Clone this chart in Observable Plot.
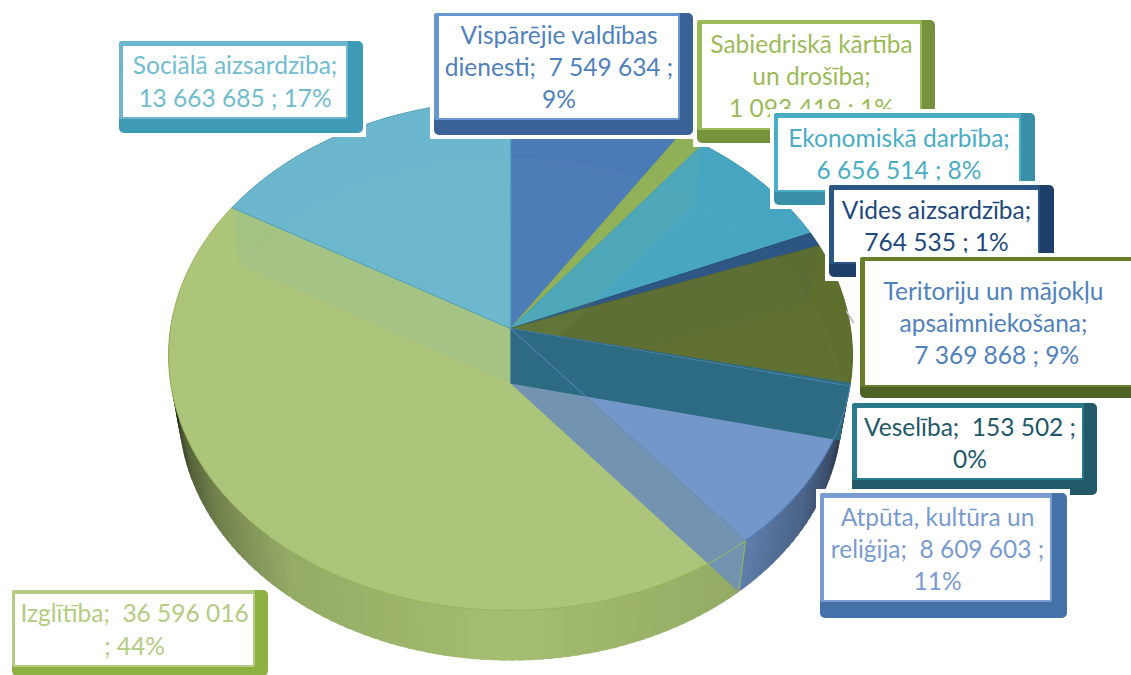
<!DOCTYPE html>
<html><head><meta charset="utf-8">
<style>html,body{margin:0;padding:0;background:#fff;overflow:hidden}svg{display:block}</style>
<script src="https://cdn.jsdelivr.net/npm/d3@7"></script>
<script src="https://cdn.jsdelivr.net/npm/@observablehq/plot@0.6"></script>
</head><body><div id="chart"></div>
<script>
// ---- data (clockwise from 12 o'clock)
const categories = ["Vispārējie valdības dienesti","Sabiedriskā kārtība un drošība","Ekonomiskā darbība","Vides aizsardzība","Teritoriju un mājokļu apsaimniekošana","Veselība","Atpūta, kultūra un reliģija","Izglītība","Sociālā aizsardzība"];
const values = [7549634,1093419,6656514,764535,7369868,153502,8609603,36596016,13663685];
const labelTexts = [
 "Vispārējie valdības\ndienesti;  7 549 634 ;\n9%",
 "Sabiedriskā kārtība\nun drošība;\n1 093 419 ; 1%",
 "Ekonomiskā darbība;\n6 656 514 ; 8%",
 "Vides aizsardzība;\n764 535 ; 1%",
 "Teritoriju un mājokļu\napsaimniekošana;\n 7 369 868 ; 9%",
 "Veselība;  153 502 ;\n0%",
 "Atpūta, kultūra un\nreliģija;  8 609 603 ;\n11%",
 "Izglītība;  36 596 016\n; 44%",
 "Sociālā aizsardzība;\n13 663 685 ; 17%"];

// ---- styles
const topColors = ["#4b7bb6","#8fb056","#46a5c1","#2b5582","#5f6f2e","#2f7088","#7096c8","#acc578","#6cb7cd"];
const edgeColors = ["#4577b3","#8aaa4f","#3f9cb8","#244c78","#58682a","#2a6679","#5f88bf","#93b355","#4f9fb8"];
const sideColors = ["#3f6ca5","#83a24a","#3c95ae","#244c78","#4f6228","#215968","#6a8fc4","#a4bd6e","#5aa8bf"];
const textColors = ["#4f81bd","#9bbb59","#4bacc6","#1f497d","#4f81bd","#215968","#7a9bcf","#b3cc82","#71bccf"];
const frameDark = ["#3b6297","#76923c","#3a8fa8","#1f3f6b","#4f6228","#215968","#4472a8","#8db040","#3f9ab5"];
const frameLight = ["#6a96cf","#9bbb59","#4bacc6","#2b5582","#6a7f2a","#2b7a8c","#7a9bd0","#b3cc82","#6cb7cd"];

// ---- layout: [x1,y1,x2,y2] of each label, drawn in this order
const drawOrder = [8,0,1,2,3,4,5,6,7];
const frames = [[434,13,693,135],[697,20,935,143],[774,113,1035,205],[829,185,1054,277],[860,257,1140,398],[852,403,1097,495],[820,493,1067,618],[12,590,268,676],[119,41,363,133]];
const inners = [[439,16,678,118],[702,24,920,128],[778,118,1019,190],[834,190,1038,262],[865,261,1140,385],[857,408,1082,478],[824,498,1050,600],[15,594,253,665],[123,46,346,117]];

// ---- pie geometry: perspective of a disc, top and bottom rim
const k = 0.1059;
const rimTop = {cx:510, cy:328, a:340, b:252.1};
const rimLow = {cx:510, cy:383, a:330, b:247.7};
const rad = d => d*Math.PI/180;
const P = (r,deg) => { const u=Math.sin(rad(deg)), v=-Math.cos(rad(deg)), w=1-k*v; return [r.cx+r.a*u/w, r.cy+r.b*v/w]; };
const total = d3.sum(values);
let acc = 0;
const bounds = [0, ...values.map(v => (acc += v)/total*360)];
const arc = (r,a0,a1) => { const n=Math.max(2,Math.ceil(Math.abs(a1-a0))), o=[]; for(let i=0;i<=n;i++) o.push(P(r,a0+(a1-a0)*i/n)); return o; };
const apexT=[rimTop.cx,rimTop.cy], apexL=[rimLow.cx,rimLow.cy];
const pts = a => a.map(p=>({x:p[0],y:p[1]}));

const shade = d3.scaleLinear().domain([0,.6,.82,.92,.97,1]).range([1,.9,.68,.5,.25,.12]).clamp(true);

// side strips, front half; each quad overlaps the next so no seams show
const strips=[];
values.forEach((_,i)=>{
  const a0=Math.max(bounds[i],90), a1=Math.min(bounds[i+1],270);
  if(a1<=a0) return;
  const n=Math.ceil((a1-a0)/1.5);
  for(let j=0;j<n;j++){
    const s=a0+(a1-a0)*j/n, e=a0+(a1-a0)*(j+1)/n;
    const q=[P(rimTop,s),P(rimTop,e+1),P(rimLow,e+1),P(rimLow,s)];
    const f=shade(Math.abs(Math.sin(rad((s+e)/2))));
    const c=d3.rgb(sideColors[i]); const col=d3.rgb(c.r*f,c.g*f,c.b*f).formatHex();
    q.forEach(p=>strips.push({x:p[0],y:p[1],id:`s${i}-${j}`,color:col}));
  }
});
// top faces
const faces=[];
values.forEach((_,i)=>{
  [apexT,...arc(rimTop,bounds[i],bounds[i+1])].forEach(p=>faces.push({x:p[0],y:p[1],id:"f"+i,color:topColors[i],edge:edgeColors[i]}));
});
// bottom disc seen through the top
const disc = pts(arc(rimLow,0,360));
// inner walls seen through the top: [boundary, fill, opacity]
const wallDefs=[[2,"#9bbb59",.08],[4,"#2b5582",.06],[8,"#6cb7cd",.13],[7,"#6f93b3",.97],[6,"#2c6b82",1]];
const wall=b=>pts([apexT,P(rimTop,bounds[b]),P(rimLow,bounds[b]),apexL]);
const rect=(d,fill,r)=>Plot.rect([d],{x1:d=>d[0],y1:d=>d[1],x2:d=>d[2],y2:d=>d[3],fill,r});

const marks=[
  Plot.line(strips,{x:"x",y:"y",z:"id",fill:"color",stroke:"none",curve:"linear-closed"}),
  Plot.line(faces,{x:"x",y:"y",z:"id",fill:"color",stroke:"edge",strokeWidth:1,curve:"linear-closed"}),
  Plot.line(disc,{x:"x",y:"y",fill:"#ffffff",fillOpacity:.015,stroke:"#ffffff",strokeOpacity:.03,curve:"linear-closed"}),
  ...wallDefs.map(([b,c,o])=>Plot.line(wall(b),{x:"x",y:"y",fill:c,fillOpacity:o,stroke:"none",curve:"linear-closed"})),
  // green rim and wall edge over the translucent wall
  Plot.line(pts(arc(rimTop,bounds[7],bounds[7]+14)),{x:"x",y:"y",stroke:"#9bbb59",strokeWidth:1}),
  Plot.line(pts([P(rimTop,bounds[7]),P(rimLow,bounds[7])]),{x:"x",y:"y",stroke:"#9bbb59",strokeWidth:1}),
  Plot.line(pts([apexT,P(rimTop,bounds[7])]),{x:"x",y:"y",stroke:"#5f88bf",strokeWidth:1}),
  Plot.line(pts(arc(rimTop,bounds[5],bounds[7])),{x:"x",y:"y",stroke:"#4f7fb8",strokeWidth:1}),
  // stub of a leader line
  Plot.line([{x:846,y:311},{x:853,y:322}],{x:"x",y:"y",stroke:"#b9b9b9",strokeWidth:1.5}),
];
drawOrder.forEach(i=>{
  const f=frames[i], n=inners[i];
  marks.push(
    rect([f[0]-4,f[1]-4,f[2]+3,f[3]+4],"#ffffff",0),
    rect(f,frameDark[i],5),
    rect([f[0],f[1],n[2]+2,n[3]+2],frameLight[i],2),
    rect(n,"#ffffff",0),
    Plot.text([labelTexts[i]],{x:(n[0]+Math.min(n[2],1121))/2,y:(n[1]+n[3])/2-2,text:d=>d,fill:textColors[i],lineHeight:1.32,fontSize:24.5,textAnchor:"middle",lineAnchor:"middle"})
  );
});

const chart=Plot.plot({width:1131,height:675,margin:0,
  x:{domain:[0,1131],axis:null},y:{domain:[675,0],axis:null},
  style:{fontFamily:"Lato, 'Open Sans', sans-serif",whiteSpace:"pre",background:"#fff"},
  marks});
document.getElementById("chart").append(chart);
</script></body></html>
